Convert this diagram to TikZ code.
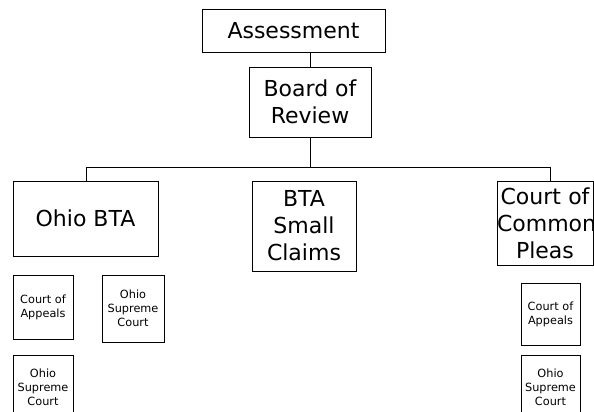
\documentclass[tikz,border=0pt]{standalone}
\usepackage{fontspec}
\setmainfont{DejaVu Sans}
\begin{document}
\begin{tikzpicture}[x=1pt,y=-1pt,
  box/.style={draw=black, line width=0.8pt, inner sep=0pt, align=center, fill=white},
  bigtxt/.style={box, font=\fontsize{22}{27}\selectfont},
  smalltxt/.style={box, font=\fontsize{11.3}{14.2}\selectfont},
  conn/.style={draw=black, line width=0.8pt}]
\useasboundingbox (0,0) rectangle (594,412);
\clip (0,0) rectangle (594,412);
\fill[white] (0,0) rectangle (594,412);
\node[bigtxt, minimum width=183pt, minimum height=43pt] (assess) at (293.5,30.5) {Assessment};
\node[bigtxt, minimum width=122pt, minimum height=70pt] (bor) at (310,102) {Board of\\Review};
\node[bigtxt, minimum width=145pt, minimum height=75pt] (obta) at (85.5,218.5) {Ohio BTA};
\node[bigtxt, minimum width=104pt, minimum height=90pt] (btasc) at (304,226) {BTA\\Small\\Claims};
\node[bigtxt, minimum width=96pt, minimum height=84pt, text width=96pt] (ccp) at (545,223) {Court of\\Common\\Pleas};
\node[smalltxt, minimum width=60pt, minimum height=64pt] (coal) at (43,307) {Court of\\Appeals};
\node[smalltxt, minimum width=62pt, minimum height=67pt] (oscm) at (133,308.5) {Ohio\\Supreme\\Court};
\node[smalltxt, minimum width=60pt, minimum height=64pt] (oscl) at (43,387) {Ohio\\Supreme\\Court};
\node[smalltxt, minimum width=59pt, minimum height=62pt] (coar) at (550.5,314) {Court of\\Appeals};
\node[smalltxt, minimum width=59pt, minimum height=64pt] (oscr) at (550.5,387) {Ohio\\Supreme\\Court};
\coordinate (hl) at (86,167);
\coordinate (hr) at (550,167);
\draw[conn] (bor.north) -- (bor.north |- assess.south);
\draw[conn] (bor.south) -- (bor.south |- hl);
\draw[conn] (obta.north -| hl) -- (hl) -- (hr) -- (hr |- ccp.north);
\end{tikzpicture}
\end{document}
